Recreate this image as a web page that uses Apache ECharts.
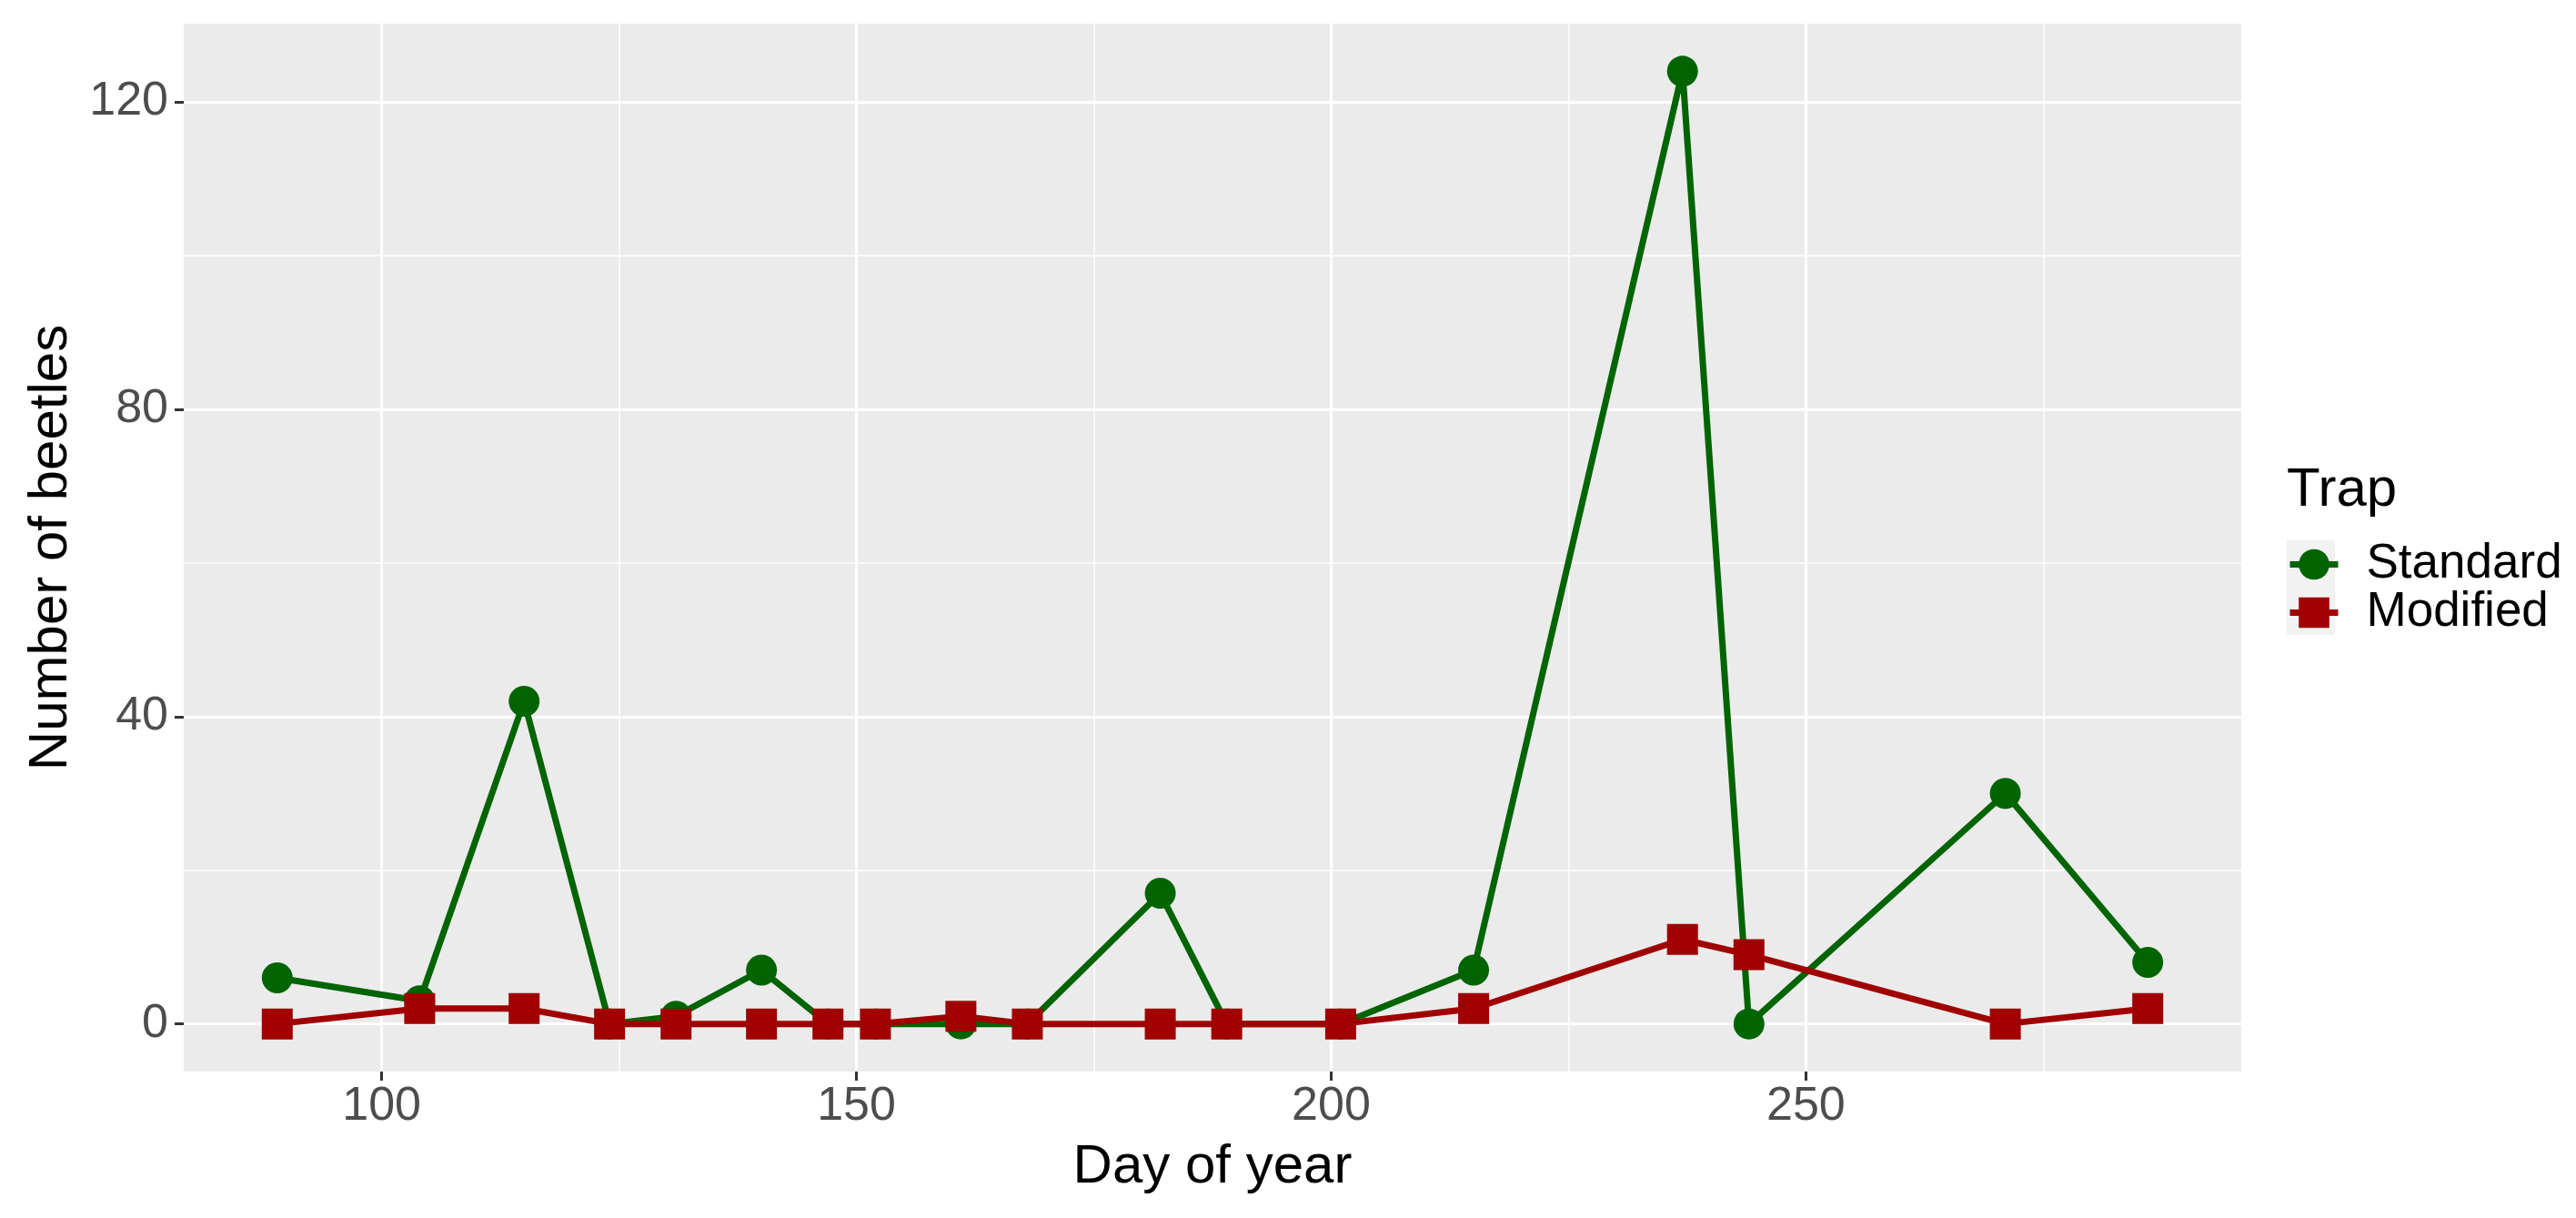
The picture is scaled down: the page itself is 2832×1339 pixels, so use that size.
<!DOCTYPE html>
<html>
<head>
<meta charset="utf-8">
<script src="https://cdn.jsdelivr.net/npm/echarts@6/dist/echarts.min.js"></script>
<style>
  html, body { margin: 0; padding: 0; background: #fff; }
  #chart { width: 2832px; height: 1339px; }
</style>
</head>
<body>
<div id="chart"></div>
<script>
// day of year for each trap check
const days = [89, 104, 115, 124, 131, 140, 147, 152, 161, 168, 182, 189, 201, 215, 237, 244, 271, 286];
const standardCounts = [6, 3, 42, 0, 1, 7, 0, 0, 0, 0, 17, 0, 0, 7, 124, 0, 30, 8];
const modifiedCounts = [0, 2, 2, 0, 0, 0, 0, 0, 1, 0, 0, 0, 0, 2, 11, 9, 0, 2];

const xMajorTicks = [100, 150, 200, 250];
const xMinorTicks = [125, 175, 225, 275];
const yMajorTicks = [0, 40, 80, 120];
const yMinorTicks = [20, 60, 100];

const greenColor = '#006400';
const redColor = '#A00000';
const fontFamily = '"Liberation Sans", Arial, sans-serif';

// ggplot style 5% padding on each side
function expand(vals) {
  const lo = Math.min(...vals), hi = Math.max(...vals);
  const pad = (hi - lo) * 0.05;
  return [lo - pad, hi + pad];
}
const xExt = expand(days);
const yExt = expand(standardCounts.concat(modifiedCounts));

const chart = echarts.init(document.getElementById('chart'), null, { renderer: 'canvas' });

const minorLines = xMinorTicks.map(v => ({ xAxis: v })).concat(yMinorTicks.map(v => ({ yAxis: v })));

const option = {
  animation: false,
  title: {
    text: 'Trap',
    left: 2514,
    top: 509,
    padding: 0,
    textStyle: { fontSize: 60, fontWeight: 'normal', color: '#000', fontFamily: fontFamily }
  },
  legend: {
    data: ['Standard', 'Modified'],
    orient: 'vertical',
    left: 2514,
    top: 594,
    padding: 0,
    itemWidth: 53,
    itemHeight: 42,
    itemGap: 0,
    lineStyle: { width: 7 },
    textStyle: { fontSize: 53, color: '#000', fontFamily: fontFamily, padding: [0, 0, 0, 26] }
  },
  graphic: [
    {
      type: 'rect',
      left: 2514,
      top: 594,
      z: -1,
      shape: { width: 53, height: 104 },
      style: { fill: '#F2F2F2' }
    }
  ],
  grid: {
    left: 202,
    right: 368,
    top: 26,
    bottom: 161,
    show: true,
    backgroundColor: '#EBEBEB',
    borderWidth: 0,
    outerBoundsMode: 'none'
  },
  xAxis: {
    type: 'value',
    min: xExt[0],
    max: xExt[1],
    minInterval: 50,
    maxInterval: 50,
    name: 'Day of year',
    nameLocation: 'middle',
    nameGap: 75,
    nameTextStyle: { fontSize: 60, color: '#000', fontFamily: fontFamily },
    axisLine: { show: false, onZero: false },
    axisTick: { show: true, length: 10, customValues: xMajorTicks, lineStyle: { color: '#333333', width: 3 } },
    axisLabel: { customValues: xMajorTicks, fontSize: 52, color: '#4D4D4D', margin: 13, fontFamily: fontFamily },
    splitLine: { show: true, lineStyle: { color: '#FFFFFF', width: 3 } }
  },
  yAxis: {
    type: 'value',
    min: yExt[0],
    max: yExt[1],
    minInterval: 40,
    maxInterval: 40,
    name: 'Number of beetles',
    nameLocation: 'middle',
    nameRotate: 90,
    nameGap: 116,
    nameTextStyle: { fontSize: 60, color: '#000', fontFamily: fontFamily },
    axisLine: { show: false, onZero: false },
    axisTick: { show: true, length: 10, customValues: yMajorTicks, lineStyle: { color: '#333333', width: 3 } },
    axisLabel: { customValues: yMajorTicks, fontSize: 52, color: '#4D4D4D', margin: 17, fontFamily: fontFamily },
    splitLine: { show: true, lineStyle: { color: '#FFFFFF', width: 3 } }
  },
  series: [
    {
      name: 'Standard',
      type: 'line',
      data: days.map((d, i) => [d, standardCounts[i]]),
      symbol: 'circle',
      symbolSize: 34,
      lineStyle: { width: 7, color: greenColor },
      itemStyle: { color: greenColor },
      markLine: {
        z: 1,
        silent: true,
        symbol: ['none', 'none'],
        label: { show: false },
        lineStyle: { color: '#FFFFFF', width: 1.5, type: 'solid' },
        emphasis: { disabled: true },
        data: minorLines
      }
    },
    {
      name: 'Modified',
      type: 'line',
      data: days.map((d, i) => [d, modifiedCounts[i]]),
      symbol: 'rect',
      symbolSize: 34,
      lineStyle: { width: 7, color: redColor },
      itemStyle: { color: redColor }
    }
  ]
};

chart.setOption(option);
</script>
</body>
</html>
